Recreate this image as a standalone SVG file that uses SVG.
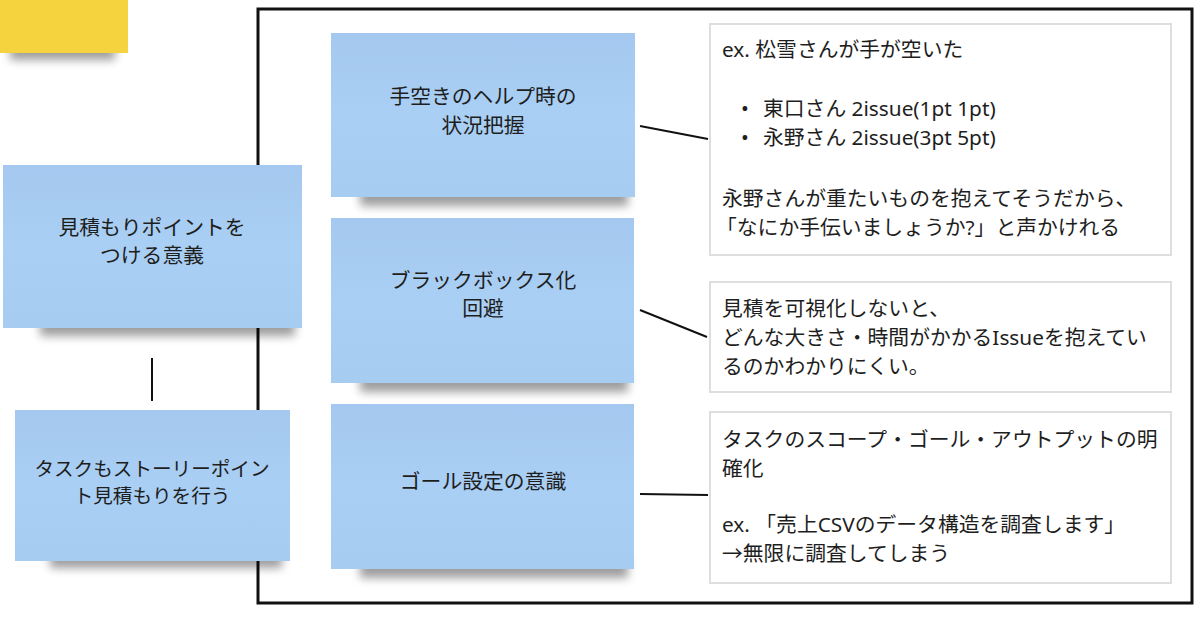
<svg xmlns="http://www.w3.org/2000/svg" width="1200" height="622" viewBox="0 0 1200 622">
  <defs>
    <filter id="blur" x="-20%" y="-100%" width="140%" height="300%">
      <feGaussianBlur stdDeviation="5"/>
    </filter>
    <linearGradient id="blueGrad" x1="0" y1="0" x2="0" y2="1">
      <stop offset="0" stop-color="#a4c8ef"/>
      <stop offset="0.5" stop-color="#aacff4"/>
      <stop offset="1" stop-color="#a7ccf2"/>
    </linearGradient>
    <style>
      .sticky { fill: url(#blueGrad); }
      .shadow { fill: #000; opacity: 0.38; filter: url(#blur); }
      .stxt { font-family: "Noto Sans", "Noto Sans CJK JP", sans-serif; font-size: 20.8px; fill: #1e1e1e; text-anchor: middle; }
      .small { font-size: 19.6px; }
      .box { fill: #ffffff; stroke: #dedede; stroke-width: 2; }
      .btxt { font-family: "Noto Sans", "Noto Sans CJK JP", sans-serif; font-size: 20.8px; fill: #1e1e1e; }
      .conn { stroke: #111; stroke-width: 2; fill: none; }
    </style>
  </defs>

  <rect width="1200" height="622" fill="#ffffff"/>

  <!-- yellow sticky -->
  <g id="yellow-note">
    <rect class="shadow" x="10" y="40" width="105" height="20"/>
    <rect x="0" y="0" width="128" height="53" fill="#f5d33f"/>
  </g>

  <!-- frame -->
  <rect id="frame" x="258" y="9" width="934" height="594" fill="none" stroke="#111" stroke-width="3"/>

  <!-- connectors -->
  <g id="connectors">
    <line class="conn" x1="152" y1="358" x2="152" y2="401"/>
    <line class="conn" x1="640" y1="126" x2="708" y2="139"/>
    <line class="conn" x1="640" y1="310" x2="707" y2="337"/>
    <line class="conn" x1="640" y1="494" x2="708" y2="495"/>
  </g>

  <!-- left stickies -->
  <g id="node-igi">
    <rect class="shadow" x="40" y="314" width="255" height="22"/>
    <rect class="sticky" x="3" y="165" width="299" height="163"/>
    <text class="stxt" x="152" y="235">見積もりポイントを</text>
    <text class="stxt" x="152" y="263">つける意義</text>
  </g>

  <g id="node-task">
    <rect class="shadow" x="50" y="548" width="232" height="20"/>
    <rect class="sticky" x="15" y="410" width="275" height="151"/>
    <text class="stxt small" x="152" y="476">タスクもストーリーポイン</text>
    <text class="stxt small" x="152" y="503">ト見積もりを行う</text>
  </g>

  <!-- middle stickies -->
  <g id="node-help">
    <rect class="shadow" x="360" y="184" width="268" height="22"/>
    <rect class="sticky" x="331" y="33" width="304" height="164"/>
    <text class="stxt" x="483" y="104">手空きのヘルプ時の</text>
    <text class="stxt" x="483" y="133">状況把握</text>
  </g>

  <g id="node-blackbox">
    <rect class="shadow" x="360" y="370" width="268" height="22"/>
    <rect class="sticky" x="331" y="218" width="303" height="165"/>
    <text class="stxt" x="483" y="288">ブラックボックス化</text>
    <text class="stxt" x="483" y="316">回避</text>
  </g>

  <g id="node-goal">
    <rect class="shadow" x="360" y="556" width="268" height="22"/>
    <rect class="sticky" x="331" y="404" width="303" height="165"/>
    <text class="stxt" x="483" y="489">ゴール設定の意識</text>
  </g>

  <!-- text boxes -->
  <g id="box-help">
    <rect class="box" x="710" y="24" width="461" height="231"/>
    <text class="btxt" x="722" y="57">ex. 松雪さんが手が空いた</text>
    <text class="btxt" x="741" y="116">•</text>
    <text class="btxt" x="763" y="116">東口さん 2issue(1pt 1pt)</text>
    <text class="btxt" x="741" y="145">•</text>
    <text class="btxt" x="763" y="145">永野さん 2issue(3pt 5pt)</text>
    <text class="btxt" x="722" y="206">永野さんが重たいものを抱えてそうだから、</text>
    <text class="btxt" x="716" y="235">「なにか手伝いましょうか?」と声かけれる</text>
  </g>

  <g id="box-blackbox">
    <rect class="box" x="710" y="282" width="461" height="110"/>
    <text class="btxt" x="722" y="316">見積を可視化しないと、</text>
    <text class="btxt" x="722" y="345">どんな大きさ・時間がかかるIssueを抱えてい</text>
    <text class="btxt" x="722" y="374">るのかわかりにくい。</text>
  </g>

  <g id="box-goal">
    <rect class="box" x="710" y="412" width="461" height="171"/>
    <text class="btxt" x="722" y="447">タスクのスコープ・ゴール・アウトプットの明</text>
    <text class="btxt" x="722" y="476">確化</text>
    <text class="btxt" x="722" y="532">ex. 「売上CSVのデータ構造を調査します」</text>
    <text class="btxt" x="722" y="561">→無限に調査してしまう</text>
  </g>
</svg>
